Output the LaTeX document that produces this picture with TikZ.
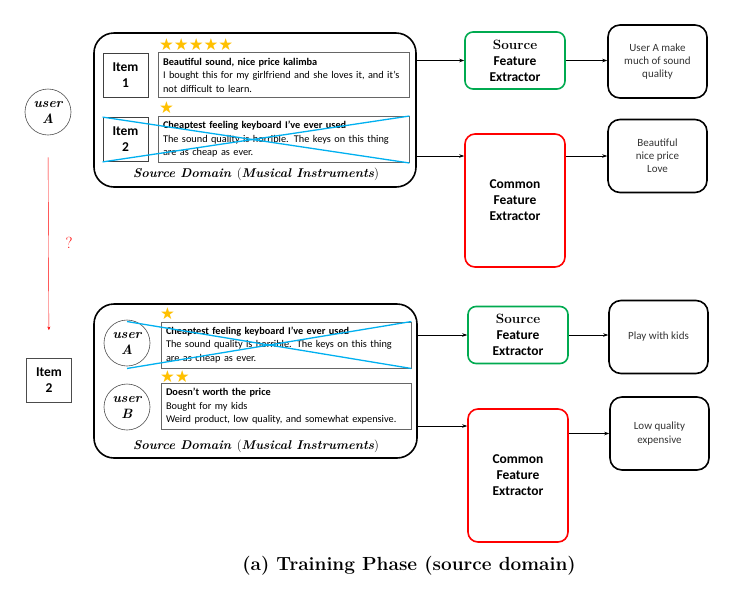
\documentclass[tikz,border=0pt]{standalone}
\usepackage{fontspec}
\setsansfont{Carlito}
\newfontfamily\symfont{DejaVu Sans}
\usetikzlibrary{arrows.meta}
\definecolor{extgreen}{RGB}{0,170,80}
\definecolor{crossblue}{RGB}{0,176,240}
\definecolor{stargold}{RGB}{255,192,0}
\tikzset{domainbox/.style={
        draw,
        line width=1.6pt,
        rounded corners=20pt,
        inner sep=0pt
}}
\tikzset{itembox/.style={
        draw=black!75,
        line width=0.8pt,
        inner sep=0pt,
        minimum width=45pt,
        minimum height=44pt,
        align=center,
        font=\sffamily\bfseries\fontsize{13.5}{16}\selectfont
}}
\tikzset{review/.style={
        draw=black!60,
        line width=0.8pt,
        inner sep=5pt,
        text width=241pt,
        minimum height=44pt,
        align=left,
        font=\sffamily\fontsize{10.3}{13.5}\selectfont
}}
\tikzset{usernode/.style={
        draw=black!70,
        circle,
        line width=0.6pt,
        minimum size=46pt,
        inner sep=0pt,
        align=center,
        font=\bfseries\itshape\fontsize{13.5}{16}\selectfont
}}
\tikzset{srcext/.style={
        draw=extgreen,
        line width=1.6pt,
        rounded corners=8pt,
        minimum width=100pt,
        minimum height=57pt,
        align=center,
        font=\sffamily\bfseries\fontsize{13.5}{16}\selectfont
}}
\tikzset{comext/.style={
        draw=red,
        line width=1.6pt,
        rounded corners=10pt,
        minimum width=100pt,
        minimum height=133pt,
        align=center,
        font=\sffamily\bfseries\fontsize{13.5}{16}\selectfont
}}
\tikzset{resultbox/.style={
        draw,
        line width=1.6pt,
        rounded corners=12pt,
        minimum width=99pt,
        minimum height=73pt,
        align=center,
        text=black!80,
        font=\sffamily\fontsize{11}{13.2}\selectfont
}}
\tikzset{starrow/.style={text=stargold, inner sep=0pt, font=\symfont\fontsize{16.5}{16.5}\selectfont}}
\tikzset{crossline/.style={draw=crossblue, line width=1.3pt}}
\tikzset{domlabel/.style={font=\bfseries\itshape\fontsize{12.7}{15}\selectfont}}
\tikzset{dataflowedge/.style={draw, line width=0.6pt, -{Stealth[length=5pt,width=3.5pt]}}}
\tikzset{qedge/.style={draw=red, line width=0.4pt, -{Stealth[length=3.5pt,width=3pt]}}}

\begin{document}
\begin{tikzpicture}[x=1pt,y=-1pt]
\useasboundingbox (0,0) rectangle (742,598);

% upper half
\node[domainbox, minimum width=322pt, minimum height=154pt] (dom1) at (255,110) {};
\node[starrow, anchor=west] (st1) at (159,45) {★★★★★};
\node[itembox] (item1) at (125.5,75) {Item\\1};
\node[review] (rev1) at (283.5,75) {\textbf{Beautiful sound, nice price kalimba}\\I bought this for my girlfriend and she loves it, and it’s\\not difficult to learn.};
\node[starrow, anchor=west] (st2) at (159,108) {★};
\node[itembox] (item2) at (125.5,139.5) {Item\\2};
\node[review] (rev2) at (283.5,139.5) {\textbf{Cheaptest feeling keyboard I’ve ever used}\\The sound quality is horrible. The keys on this thing\\are as cheap as ever.};
\draw[crossline] (item2.north west) -- (rev2.south east);
\draw[crossline] (item2.south west) -- (rev2.north east);
\node[domlabel] (lbl1) at (256,174) {Source Domain \textnormal{(}Musical Instruments\textnormal{)}};

\node[usernode] (ua) at (48,112) {user\\A};
\node[itembox, draw=black!70] (itm) at (49,380.5) {Item\\2};
\draw[qedge, shorten <=22pt, shorten >=28pt] (ua.south) -- (itm.north);
\node[text=red, font=\fontsize{16}{16}\selectfont] (q) at (69,243) {?};

\node[srcext] (sfe1) at (515,60.5) {{\rmfamily\bfseries Source}\\Feature\\Extractor};
\node[resultbox] (out1) at (657.5,61.5) {User A make\\much of sound\\quality};
\node[comext] (cfe1) at (515,200.5) {Common\\Feature\\Extractor};
\node[resultbox] (out2) at (657.5,156) {Beautiful\\nice price\\Love};

\draw[dataflowedge] (dom1.east |- sfe1) -- (sfe1.west);
\draw[dataflowedge] (sfe1.east) -- (sfe1.east -| out1.west);
\draw[dataflowedge] (dom1.east |- out2) -- (cfe1.west |- out2);
\draw[dataflowedge] (cfe1.east |- out2) -- (out2.west);

% lower half
\node[domainbox, minimum width=323pt, minimum height=154pt] (dom2) at (255.5,381) {};
\node[starrow, anchor=west] (st3) at (160,314) {★};
\node[usernode] (ua2) at (127,343) {user\\A};
\node[review, text width=240pt] (rev3) at (286,345) {\textbf{Cheaptest feeling keyboard I’ve ever used}\\The sound quality is horrible. The keys on this thing\\are as cheap as ever.};
\draw[crossline] (ua2.center |- rev3.north) -- (rev3.south east);
\draw[crossline] (ua2.center |- rev3.south) -- (rev3.north east);
\node[starrow, anchor=west] (st4) at (160,377) {★★};
\node[usernode] (ub) at (127,407) {user\\B};
\node[review, text width=240pt] (rev4) at (286,406.5) {\textbf{Doesn’t worth the price}\\Bought for my kids\\Weird product, low quality, and somewhat expensive.};
\node[domlabel] (lbl2) at (256,446) {Source Domain \textnormal{(}Musical Instruments\textnormal{)}};

\node[srcext] (sfe2) at (518,335) {{\rmfamily\bfseries Source}\\Feature\\Extractor};
\node[resultbox] (out3) at (658.5,337) {Play with kids};
\node[comext] (cfe2) at (518,475.5) {Common\\Feature\\Extractor};
\node[resultbox] (out4) at (659.5,433.5) {Low quality\\expensive};
\coordinate (c2) at (417,426);

\draw[dataflowedge] (dom2.east |- sfe2) -- (sfe2.west);
\draw[dataflowedge] (sfe2.east) -- (sfe2.east -| out3.west);
\draw[dataflowedge] (c2) -- (c2 -| cfe2.west);
\draw[dataflowedge] (cfe2.east |- out4) -- (out4.west);

\node[font=\bfseries\fontsize{19}{22}\selectfont] (cap) at (409,566) {(a) Training Phase (source domain)};
\end{tikzpicture}
\end{document}
